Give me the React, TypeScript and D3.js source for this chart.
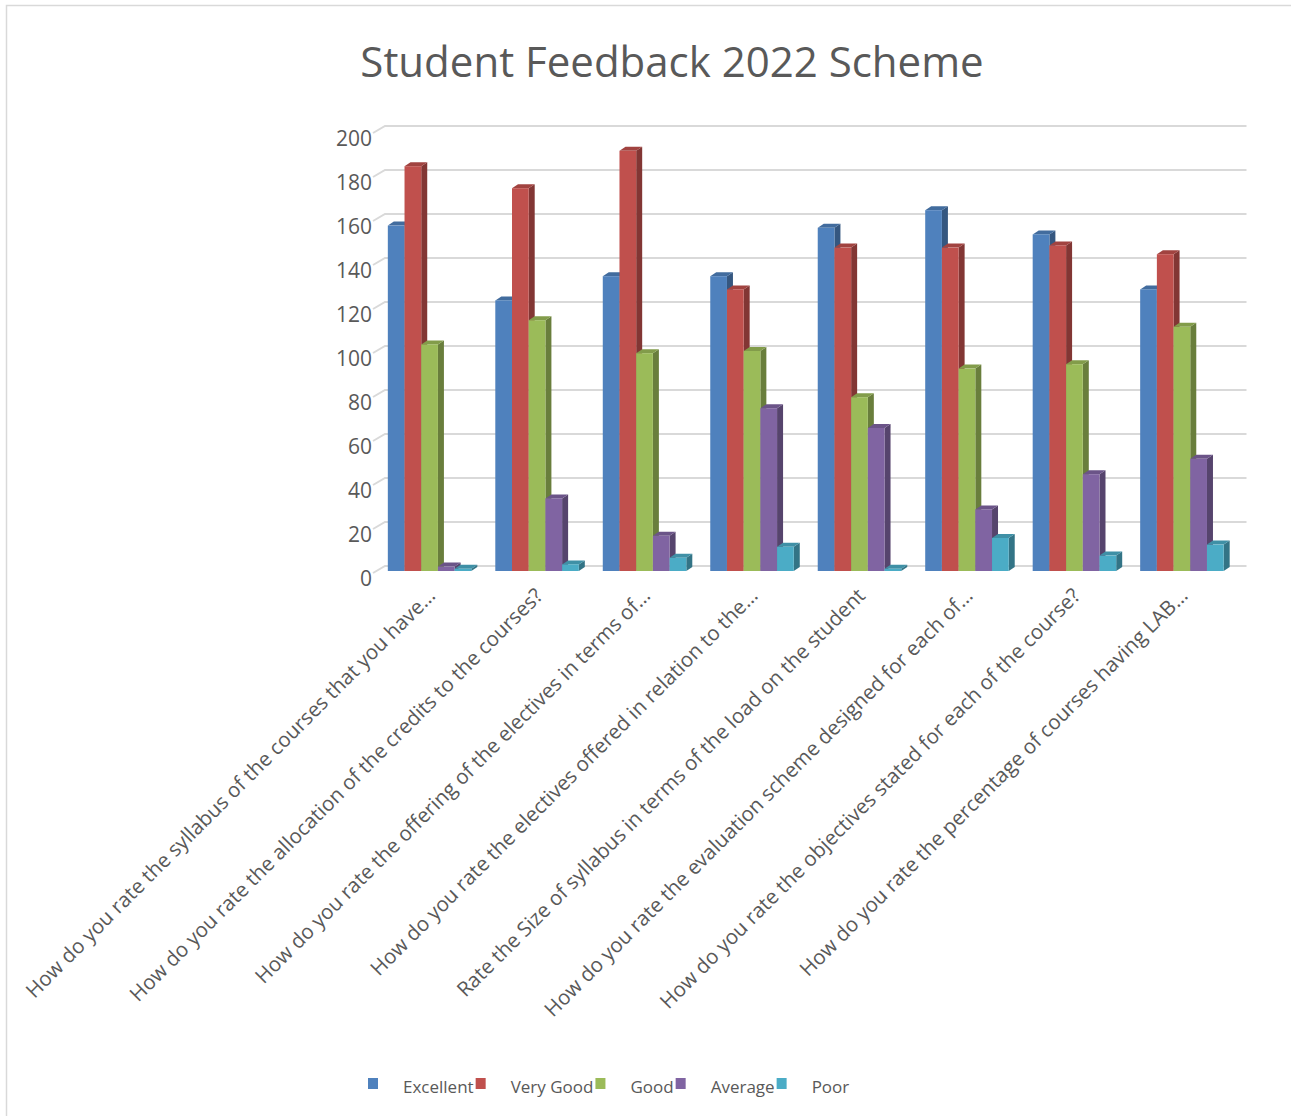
import React, { useEffect, useRef } from 'react';
import * as d3 from 'd3';

const categories = [
  'How do you rate the syllabus of the courses that you have…',
  'How do you rate the allocation of the credits to the courses?',
  'How do you rate the offering of the electives in terms of…',
  'How do you rate the electives offered in relation to the…',
  'Rate the Size of syllabus in terms of the load on the student',
  'How do you rate the evaluation scheme designed for each of…',
  'How do you rate the objectives stated for each of the course?',
  'How do you rate the percentage of courses having LAB…',
];

const seriesNames = ['Excellent', 'Very Good', 'Good', 'Average', 'Poor'];
const excellent = [157, 123, 134, 134, 156, 164, 153, 128];
const veryGood = [184, 174, 191, 128, 147, 147, 148, 144];
const good = [103, 114, 99, 100, 79, 92, 94, 111];
const average = [2, 33, 16, 74, 65, 28, 44, 51];
const poor = [1, 3, 6, 11, 1, 15, 7, 12];
const yTicks = [0, 20, 40, 60, 80, 100, 120, 140, 160, 180, 200];

const frontColors = ['#4F81BD', '#C0504D', '#9BBB59', '#8064A2', '#4BACC6'];

const W = 1291;
const H = 1116;
const FONT = "'Open Sans', 'DejaVu Sans', sans-serif";
const TEXT = '#595959';

const App = () => {
  const svgRef = useRef<SVGSVGElement>(null);

  useEffect(() => {
    const svg = d3.select(svgRef.current);
    svg.selectAll('*').remove();

    const values = [excellent, veryGood, good, average, poor];
    const table = categories.map((c, i) => ({
      category: c,
      vals: seriesNames.map((s, j) => ({ key: s, idx: j, value: values[j][i] })),
    }));

    // chart frame
    svg.append('rect')
      .attr('x', 6.5).attr('y', 5.5)
      .attr('width', W + 20).attr('height', H + 20)
      .attr('fill', '#fff').attr('stroke', '#D9D9D9').attr('stroke-width', 1.5);

    svg.append('text')
      .attr('x', 672).attr('y', 77)
      .attr('text-anchor', 'middle')
      .attr('font-family', FONT).attr('font-size', 42)
      .attr('fill', TEXT)
      .text('Student Feedback 2022 Scheme');

    const x0 = d3.scaleBand<string>()
      .domain(categories)
      .range([376, 1235.5])
      .paddingInner(0.223)
      .paddingOuter(0.11);
    const x1 = d3.scaleBand<string>()
      .domain(seriesNames)
      .range([0, x0.bandwidth()]);
    const y = d3.scaleLinear().domain([0, 200]).range([571, 131]);

    const wallDx = 9;
    const wallDy = -5;
    const [rx0, rx1] = x0.range();

    // back wall gridlines with the small left side wall segment
    const grid = svg.append('g');
    yTicks.forEach(t => {
      const gy = y(t) + wallDy;
      grid.append('path')
        .attr('d', `M${rx0 - 3},${gy + 7}L${rx0 + wallDx},${gy}L${rx1 + 11},${gy}`)
        .attr('fill', 'none')
        .attr('stroke', '#D9D9D9')
        .attr('stroke-width', 2);
    });

    // y tick labels
    svg.append('g')
      .selectAll('text')
      .data(yTicks)
      .enter().append('text')
      .attr('x', 372)
      .attr('y', d => y(d) + 8)
      .attr('dy', '0.35em')
      .attr('text-anchor', 'end')
      .attr('font-family', FONT).attr('font-size', 21)
      .attr('fill', TEXT)
      .text(d => d);

    // 3D-ish clustered columns
    const dx = 6;
    const dy = -4;
    const groups = svg.append('g')
      .selectAll('g')
      .data(table)
      .enter().append('g')
      .attr('transform', d => `translate(${x0(d.category)},0)`);

    groups.each(function (d) {
      const g = d3.select(this);
      d.vals.forEach(v => {
        const bx = x1(v.key) as number;
        const bw = x1.bandwidth();
        const top = y(v.value);
        const base = y(0);
        const c = d3.color(frontColors[v.idx]) as d3.RGBColor;
        g.append('path')
          .attr('d', `M${bx + bw},${top}L${bx + bw + dx},${top + dy}L${bx + bw + dx},${base + dy}L${bx + bw},${base}Z`)
          .attr('fill', c.darker(1.1).toString());
        g.append('path')
          .attr('d', `M${bx},${top}L${bx + dx},${top + dy}L${bx + bw + dx},${top + dy}L${bx + bw},${top}Z`)
          .attr('fill', c.darker(0.5).toString());
        g.append('rect')
          .attr('x', bx).attr('y', top)
          .attr('width', bw).attr('height', base - top)
          .attr('fill', frontColors[v.idx]);
      });
    });

    // rotated category labels
    svg.append('g')
      .selectAll('text')
      .data(categories)
      .enter().append('text')
      .attr('transform', d => `translate(${(x0(d) as number) + x0.bandwidth() / 2 + 7},${597}) rotate(-45)`)
      .attr('text-anchor', 'end')
      .attr('font-family', FONT).attr('font-size', 20.5)
      .attr('fill', TEXT)
      .text(d => d);

    // legend
    const legend = svg.append('g');
    let lx = 368;
    seriesNames.forEach((s, i) => {
      legend.append('rect')
        .attr('x', lx).attr('y', 1078)
        .attr('width', 10).attr('height', 11)
        .attr('fill', frontColors[i]);
      const t = legend.append('text')
        .attr('x', lx + 35).attr('y', 1093)
        .attr('font-family', FONT).attr('font-size', 17)
        .attr('fill', TEXT)
        .text(s);
      const len = (t.node() as SVGTextElement).getComputedTextLength();
      lx = lx + 35 + len + 2;
    });
  }, []);

  return (
    <svg
      ref={svgRef}
      width={W}
      height={H}
      style={{ position: 'absolute', left: 0, top: 0, background: '#fff' }}
    />
  );
};

export default App;
